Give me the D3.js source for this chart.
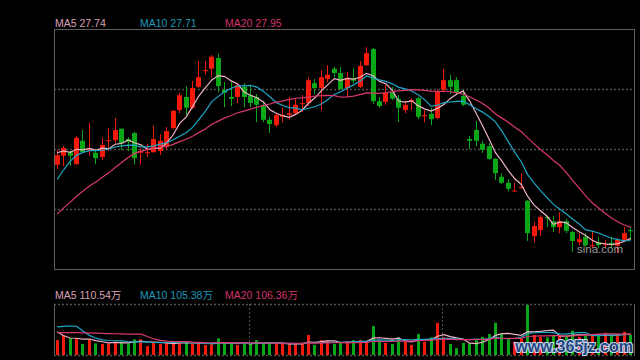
<!DOCTYPE html>
<html><head><meta charset="utf-8">
<script src="https://cdn.jsdelivr.net/npm/d3@7"></script>
<style>html,body{margin:0;padding:0;background:#000;}svg{display:block;}</style>
</head><body>
<svg id="chart" width="640" height="360"></svg>
<script>
// ---- data (prices in yuan, volumes in 万) ----
const openP  = [29.02,29.17,29.23,29.03,29.42,29.25,29.22,29.15,29.42,29.43,29.62,29.45,29.55,29.22,29.22,29.23,29.25,29.32,29.63,29.93,
                30.15,29.97,30.32,30.58,30.62,30.80,30.27,30.15,30.15,30.32,30.18,30.15,30.00,29.77,29.68,29.82,29.85,29.88,30.03,30.05,
                30.38,30.30,30.45,30.62,30.55,30.30,30.45,30.32,30.68,30.95,30.08,30.07,30.23,30.12,29.93,30.08,30.13,29.83,29.87,29.80,
                30.27,30.43,30.43,30.17,29.45,29.60,29.37,29.33,29.12,28.82,28.72,28.58,28.63,28.42,27.83,27.93,28.15,28.08,27.98,28.08,
                27.90,27.73,27.82,27.67,27.73,27.68,27.72,27.67,27.77,27.93];
const highP  = [29.27,29.33,29.25,29.50,29.60,29.72,29.28,29.47,29.63,29.80,29.63,29.48,29.57,29.30,29.37,29.67,29.53,29.65,29.93,30.22,
                30.33,30.42,30.75,30.75,30.85,30.87,30.40,30.40,30.38,30.38,30.35,30.20,30.07,29.82,29.88,29.97,30.15,30.13,30.18,30.48,
                30.45,30.60,30.68,30.65,30.65,30.57,30.63,30.75,30.98,30.97,30.15,30.35,30.32,30.18,30.08,30.13,30.15,29.93,29.97,30.27,
                30.62,30.52,30.48,30.27,29.50,29.75,29.42,29.38,29.13,28.88,28.78,28.72,28.88,28.43,28.07,28.18,28.17,28.17,28.23,28.12,
                27.92,27.88,27.88,27.92,27.82,27.77,27.82,27.80,27.98,27.98];
const lowP   = [28.95,29.00,29.00,29.02,29.22,29.17,29.03,29.10,29.25,29.38,29.27,29.25,29.02,29.02,29.15,29.22,29.18,29.27,29.62,29.88,
                29.85,29.95,30.30,30.52,30.48,30.23,29.98,30.00,30.05,29.98,29.98,29.73,29.73,29.55,29.65,29.73,29.77,29.85,29.90,30.00,
                30.20,29.93,30.40,30.48,30.27,30.15,30.38,30.30,30.67,30.03,29.97,30.02,30.10,29.73,29.88,29.93,29.78,29.73,29.68,29.78,
                30.23,30.20,30.18,30.00,29.28,29.33,29.22,29.10,28.77,28.70,28.58,28.58,28.63,27.75,27.72,27.83,27.98,27.90,27.88,27.88,
                27.57,27.68,27.65,27.63,27.63,27.63,27.63,27.55,27.75,27.77];
const closeP = [29.18,29.30,29.17,29.47,29.23,29.30,29.13,29.35,29.43,29.60,29.38,29.40,29.13,29.25,29.23,29.45,29.42,29.58,29.92,30.18,
                29.97,30.30,30.48,30.60,30.82,30.33,30.22,30.12,30.35,30.15,30.05,30.02,29.77,29.70,29.85,29.85,29.88,30.02,30.05,30.43,
                30.30,30.48,30.52,30.55,30.28,30.47,30.42,30.67,30.88,30.08,30.00,30.22,30.12,29.97,30.02,30.10,29.82,29.85,29.78,30.25,
                30.43,30.32,30.22,30.02,29.42,29.42,29.27,29.12,28.88,28.72,28.62,28.59,28.65,27.88,28.00,28.15,28.13,27.98,28.08,27.92,
                27.75,27.78,27.68,27.68,27.68,27.70,27.70,27.77,27.88,27.92];
const volume = [77,103,86,86,57,81,60,57,60,68,68,60,81,81,46,63,57,63,63,68,
                63,57,63,52,52,86,60,57,52,60,60,77,57,57,57,57,57,57,57,103,
                52,77,74,57,62,63,77,77,68,149,74,63,57,91,74,52,108,68,91,166,
                91,57,35,63,60,77,94,108,166,108,81,68,86,258,103,94,91,98,103,98,
                125,94,98,103,98,115,98,103,120,103];
// closes and volumes of the 19 sessions before the window (only used by the moving averages)
const prevClose  = [27.23,27.33,27.43,27.53,27.63,27.73,27.83,27.93,27.83,27.73,27.70,27.77,28.47,28.73,29.00,29.15,29.28,29.22,29.27];
const prevVolume = [82,88,82,88,82,88,82,88,82,85,72,77,93,299,309,206,144,93,80];
const maPeriods  = [5, 10, 20];
const priceMaLabels  = ["MA5 27.74", "MA10 27.71", "MA20 27.95"];
const volumeMaLabels = ["MA5 110.54万", "MA10 105.38万", "MA20 106.36万"];
const separatorIdx = [30, 60];

// ---- styles ----
const RED = "#f41a0a", GREEN = "#0aa816";
const maColors = ["#f0b2c4", "#1ca6c8", "#d8386e"];
const labelColors = ["#d9a2b6", "#1d98b8", "#d2336a"];
const GRID = "#4e4e4e", FRAME = "#5e5e5e";

const W = 640, H = 360;
const L = 54, R = 634, pTop = 29, pBot = 269, vTop = 304, vBot = 355;

const svg = d3.select("#chart");
svg.append("rect").attr("width", W).attr("height", H).attr("fill", "#000");

const idx = d3.range(closeP.length);
const x = d3.scaleBand().domain(idx).range([L, R]).paddingInner(0.25).paddingOuter(0.12);
const cx = i => x(i) + x.bandwidth() / 2;
const y = d3.scaleLinear().domain([27.283, 31.283]).range([pBot, pTop]);
const yv = d3.scaleLinear().domain([0, d3.max(volume)]).range([vBot, vTop + 1]);

function movingAvg(series, hist, n) {
  const all = hist.concat(series);
  return series.map((_, i) => d3.mean(all.slice(i + hist.length - n + 1, i + hist.length + 1)));
}

// ---- price panel ----
const gridYs = d3.range(1, 4).map(k => y(y.domain()[0] + k * (y.domain()[1] - y.domain()[0]) / 4));
svg.append("g").selectAll("line").data(gridYs).join("line")
  .attr("x1", L).attr("x2", R).attr("y1", d => Math.round(d) + 0.5).attr("y2", d => Math.round(d) + 0.5)
  .attr("stroke", GRID).attr("stroke-width", 1.5).attr("stroke-dasharray", "2,2");

svg.append("rect").attr("x", L + 0.5).attr("y", pTop + 0.5).attr("width", R - L).attr("height", pBot - pTop)
  .attr("fill", "none").attr("stroke", FRAME).attr("stroke-width", 1);

const col = i => closeP[i] >= openP[i] ? RED : GREEN;
const candles = svg.append("g").selectAll("g").data(idx).join("g");
candles.append("line")
  .attr("x1", i => Math.floor(cx(i)) + 0.5).attr("x2", i => Math.floor(cx(i)) + 0.5)
  .attr("y1", i => y(highP[i])).attr("y2", i => y(lowP[i]))
  .attr("stroke", col).attr("stroke-width", 1);
candles.append("rect")
  .attr("x", i => Math.floor(cx(i)) - 2).attr("width", 5)
  .attr("y", i => y(Math.max(openP[i], closeP[i])))
  .attr("height", i => Math.max(1, Math.abs(y(openP[i]) - y(closeP[i]))))
  .attr("fill", col);

maPeriods.forEach((n, k) => {
  const m = movingAvg(closeP, prevClose, n);
  svg.append("path").datum(m)
    .attr("d", d3.line().x((d, i) => cx(i)).y(d => y(d)))
    .attr("fill", "none").attr("stroke", maColors[k]).attr("stroke-width", 1.2);
});

// ---- volume panel ----
svg.append("g").selectAll("line").data(separatorIdx).join("line")
  .attr("x1", i => Math.round(x(i)) + 1.5).attr("x2", i => Math.round(x(i)) + 1.5)
  .attr("y1", vTop).attr("y2", vBot)
  .attr("stroke", GRID).attr("stroke-width", 1).attr("stroke-dasharray", "2,2");
svg.append("g").selectAll("line").data([vTop, vBot]).join("line")
  .attr("x1", L).attr("x2", R + 1).attr("y1", d => d + 0.5).attr("y2", d => d + 0.5)
  .attr("stroke", GRID).attr("stroke-width", 1.5).attr("stroke-dasharray", "2,2");
svg.append("g").selectAll("line").data([L, R]).join("line")
  .attr("x1", d => d + 0.5).attr("x2", d => d + 0.5).attr("y1", vTop).attr("y2", vBot)
  .attr("stroke", FRAME);

svg.append("g").selectAll("rect").data(idx).join("rect")
  .attr("x", i => Math.floor(cx(i)) - 1).attr("width", 3)
  .attr("y", i => yv(volume[i])).attr("height", i => vBot - yv(volume[i]))
  .attr("fill", col);

maPeriods.forEach((n, k) => {
  const m = movingAvg(volume, prevVolume, n);
  svg.append("path").datum(m)
    .attr("d", d3.line().x((d, i) => cx(i)).y(d => yv(d)))
    .attr("fill", "none").attr("stroke", maColors[k]).attr("stroke-width", 1.2);
});

// ---- labels ----
const labelX = [55, 140, 225];
svg.append("g").selectAll("text").data(priceMaLabels).join("text")
  .attr("x", (d, k) => labelX[k]).attr("y", 27)
  .attr("fill", (d, k) => labelColors[k])
  .attr("font-family", "Liberation Sans, Arial, sans-serif").attr("font-size", 10.5)
  .text(d => d);
svg.append("g").selectAll("text").data(volumeMaLabels).join("text")
  .attr("x", (d, k) => labelX[k]).attr("y", 299)
  .attr("fill", (d, k) => labelColors[k])
  .attr("font-family", "Liberation Sans, Arial, 'Noto Sans CJK SC', sans-serif").attr("font-size", 10.5)
  .text(d => d);

// watermarks
svg.append("text").attr("x", 623).attr("y", 253).attr("text-anchor", "end")
  .attr("fill", "#b4b4b4").attr("opacity", 0.85)
  .attr("font-family", "Liberation Sans, Arial, sans-serif").attr("font-size", 11.5)
  .text("sina.com");
svg.append("text").attr("x", 633).attr("y", 352).attr("text-anchor", "end")
  .attr("fill", "#24467e").attr("stroke", "#c6d6ee").attr("stroke-width", 2.2)
  .attr("paint-order", "stroke").attr("font-weight", "bold")
  .attr("font-family", "Liberation Sans, Arial, sans-serif").attr("font-size", 16)
  .text("www.365jz.com");
</script>
</body></html>
